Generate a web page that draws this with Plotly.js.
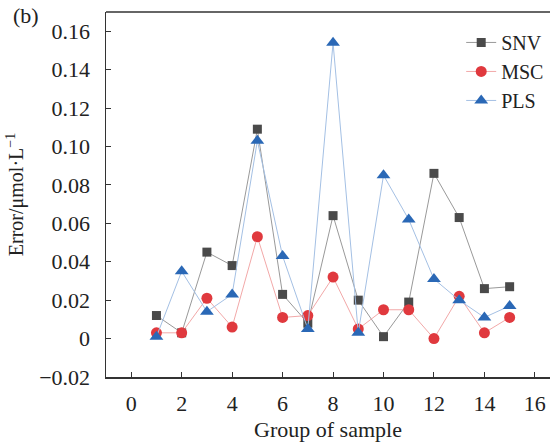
<!DOCTYPE html>
<html>
<head>
<meta charset="utf-8">
<script src="https://cdn.plot.ly/plotly-3.0.1.min.js"></script>
<style>html,body{margin:0;padding:0;background:#fff;}#chart{width:550px;height:443px;}</style>
</head>
<body>
<div id="chart"></div>
<script>
const groups = [1,2,3,4,5,6,7,8,9,10,11,12,13,14,15];
const snv = [0.012,0.003,0.045,0.038,0.109,0.023,0.008,0.064,0.020,0.001,0.019,0.086,0.063,0.026,0.027];
const msc = [0.003,0.003,0.021,0.006,0.053,0.011,0.012,0.032,0.005,0.015,0.015,0.000,0.022,0.003,0.011];
const pls = [0.001,0.035,0.014,0.023,0.103,0.043,0.005,0.154,0.003,0.085,0.062,0.031,0.020,0.011,0.017];
const xTicks = [0,2,4,6,8,10,12,14,16];
const yTicks = [-0.02,0,0.02,0.04,0.06,0.08,0.10,0.12,0.14,0.16];
const yTickText = ['\u22120.02','0','0.02','0.04','0.06','0.08','0.10','0.12','0.14','0.16'];

const font = 'Liberation Serif, Times New Roman, serif';
const traces = [
  {x: groups, y: snv, name: 'SNV', mode: 'lines+markers', type: 'scatter',
   line: {color: '#999999', width: 1}, marker: {symbol: 'square', size: 9, color: '#4a4a4a'}},
  {x: groups, y: msc, name: 'MSC', mode: 'lines+markers', type: 'scatter',
   line: {color: '#f2a8a8', width: 1}, marker: {symbol: 'circle', size: 11, color: '#e0393e'}},
  {x: groups, y: pls, name: 'PLS', mode: 'lines+markers', type: 'scatter',
   line: {color: '#a4c0e4', width: 1}, marker: {symbol: 'triangle-up', size: 12, color: '#2a68b6'}}
];
const layout = {
  width: 550, height: 443,
  margin: {l: 106, r: 0, t: 12, b: 66},
  paper_bgcolor: '#fff', plot_bgcolor: '#fff',
  font: {family: font, size: 22, color: '#222'},
  showlegend: true,
  legend: {x: 0.80, y: 0.97, xanchor: 'left', yanchor: 'top', bgcolor: 'rgba(0,0,0,0)',
           font: {family: font, size: 20, color: '#222'}, tracegroupgap: 0, itemwidth: 30},
  xaxis: {range: [-1, 16.6], tickvals: xTicks, ticks: 'inside', ticklen: 5, tickcolor: '#333',
          showgrid: false, zeroline: false, showline: true, linecolor: '#333', linewidth: 1.5,
          ticklabelstandoff: 6,
          tickfont: {family: font, size: 22, color: '#222'},
          title: {text: 'Group of sample', font: {family: font, size: 22, color: '#222'}, standoff: 6}},
  yaxis: {range: [-0.02, 0.17], tickvals: yTicks, ticktext: yTickText, ticks: 'inside', ticklen: 5,
          tickcolor: '#333', showgrid: false, zeroline: false, showline: true, linecolor: '#333', linewidth: 1.5,
          ticklabelstandoff: 10,
          tickfont: {family: font, size: 22, color: '#222'},
          title: {text: 'Error/\u03bcmol\u00b7L<sup>\u22121</sup>', font: {family: font, size: 20, color: '#222'}, standoff: 10}},
  shapes: [{type: 'line', xref: 'paper', yref: 'paper', x0: 0, x1: 1, y0: 1, y1: 1,
            line: {color: '#333', width: 1.5}}],
  annotations: [{text: '(b)', xref: 'paper', yref: 'paper', x: -0.215, y: 1.03, xanchor: 'left', yanchor: 'top',
                 showarrow: false, font: {family: font, size: 22, color: '#222'}}]
};
Plotly.newPlot('chart', traces, layout, {displayModeBar: false, staticPlot: true});
</script>
</body>
</html>
